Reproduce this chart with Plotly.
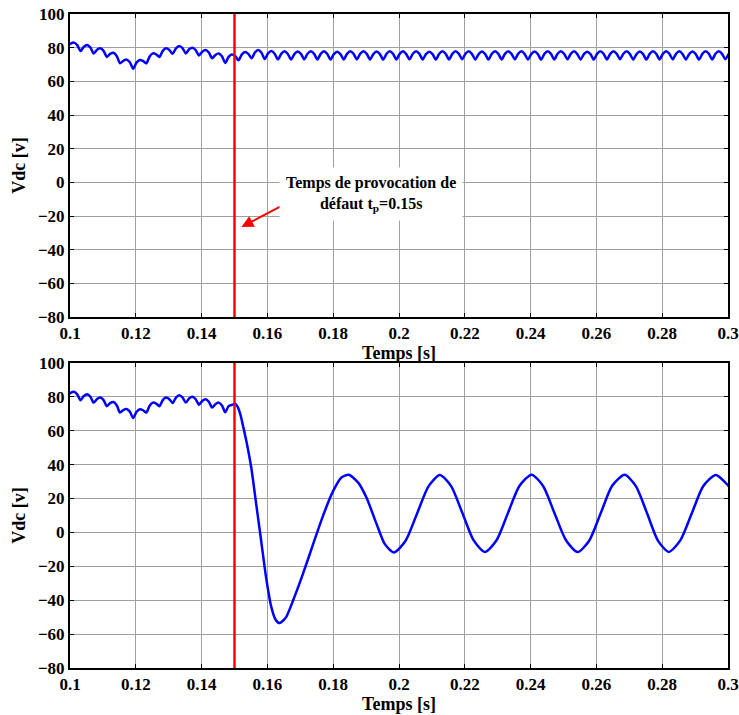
import numpy as np
import plotly.graph_objects as go

# ---------------------------------------------------------------------------
# DC-link voltage Vdc, sampled every 1 ms (ripple: cusp, rise, crest, fall)
# ---------------------------------------------------------------------------
T_START = 0.0992
DT = 0.001
T_FAULT = 0.15

vdc_normal = [
    81.0, 82.4, 83.0, 81.5,   78.0, 80.5, 81.6, 80.1,   76.6, 78.7, 79.6, 78.1,
    74.5, 76.3, 77.0, 75.1,   70.7, 72.2, 72.9, 71.3,   67.5, 71.1, 72.7, 72.1,
    70.7, 74.8, 76.6, 76.0,   74.5, 78.1, 79.6, 78.6,   76.4, 79.6, 81.0, 79.7,
    76.6, 79.0, 80.0, 78.6,   75.4, 77.6, 78.6, 77.1,   73.7, 75.7, 76.6, 74.9,
    70.9, 74.5, 76.0, 75.0,   72.5, 75.9, 77.4, 76.3,   73.7, 77.1, 78.6, 77.0,
    73.2, 76.6, 78.0, 76.4,   73.0, 76.3, 77.8, 76.2,   72.9, 76.2, 77.7, 76.3,
    73.1, 76.4, 77.9, 76.3,   73.0, 76.3, 77.8, 76.2,   72.9, 76.2, 77.6, 76.2,
    73.0, 76.3, 77.8, 76.3,   73.1, 76.4, 77.9, 76.3,   73.0, 76.2, 77.7, 76.2,
    72.9, 76.3, 77.8, 76.3,   73.0, 76.3, 77.8, 76.2,   73.1, 76.4, 77.9, 76.3,
    73.0, 76.2, 77.6, 76.2,   72.9, 76.3, 77.8, 76.3,   73.0, 76.3, 77.9, 76.3,
    73.1, 76.4, 77.8, 76.2,   73.0, 76.2, 77.7, 76.2,   72.9, 76.3, 77.8, 76.3,
    73.0, 76.3, 77.9, 76.3,   73.1, 76.3, 77.8, 76.2,   73.0, 76.2, 77.7, 76.2,
    72.9, 76.3, 77.8, 76.3,   73.0, 76.4, 77.9, 76.3,   73.1, 76.3, 77.8, 76.2,
    73.0, 76.2, 77.6, 76.2,   72.9, 76.3, 77.8, 76.3,   73.0, 76.3, 77.9, 76.3,
    73.1, 76.4, 77.8, 76.2,   73.0, 76.2, 77.7, 76.2,   72.9, 76.3, 77.8, 76.3,
    73.0, 76.3, 77.9, 76.3,   73.1, 76.3, 77.8, 76.2,   73.0, 76.2, 77.7, 76.2,
    72.9, 76.3, 77.8, 76.3,   73.0, 76.4, 77.9, 76.3,   73.1, 76.3,
]

# Response after the fault (bottom panel), read point by point
fault_t = [
    0.1494, 0.1502, 0.1510, 0.1518, 0.1527, 0.1536, 0.1551, 0.1566, 0.1581,
    0.1596, 0.1612, 0.1625, 0.1637, 0.1648, 0.1657, 0.1678, 0.1708, 0.1739,
    0.1769, 0.1800, 0.1825, 0.1847, 0.1876, 0.1901, 0.1932, 0.1957, 0.1985,
    0.2020, 0.2055, 0.2090, 0.2124, 0.2158, 0.2193, 0.2227, 0.2261, 0.2296,
    0.2331, 0.2366, 0.2403, 0.2438, 0.2473, 0.2508, 0.2543, 0.2578, 0.2613,
    0.2648, 0.2686, 0.2720, 0.2754, 0.2787, 0.2820, 0.2855, 0.2890, 0.2925,
    0.2963, 0.3000, 0.3010,
]
fault_v = [
    75.4, 76.0, 74.0, 69.5, 62.0, 53.9, 38.2, 16.7, -4.9,
    -26.5, -44.1, -51.5, -53.5, -52.0, -50.0, -40.2, -24.5, -6.9,
    9.8, 24.5, 32.4, 34.0, 29.4, 20.6, 4.9, -6.9, -11.8,
    -4.9, 11.2, 27.3, 33.9, 27.5, 11.3, -4.7, -11.5, -4.8,
    11.4, 27.4, 34.1, 27.4, 11.2, -4.8, -11.6, -4.9, 11.3,
    27.5, 34.0, 27.3, 11.3, -4.8, -11.5, -4.7, 11.3, 27.4,
    33.9, 27.8, 25.5,
]

x_ticks = [0.1, 0.12, 0.14, 0.16, 0.18, 0.2, 0.22, 0.24, 0.26, 0.28, 0.3]
x_tick_text = ["0.1", "0.12", "0.14", "0.16", "0.18", "0.2", "0.22", "0.24",
               "0.26", "0.28", "0.3"]
y_ticks = [-80, -60, -40, -20, 0, 20, 40, 60, 80, 100]

t_normal = T_START + DT * np.arange(len(vdc_normal))
pre = t_normal < 0.1490
t_fault_case = np.concatenate([t_normal[pre], fault_t])
v_fault_case = np.concatenate([np.array(vdc_normal)[pre], fault_v])

FONT = "Liberation Serif"
BLUE = "#0000ff"
RED = "#ff0000"

fig = go.Figure()
fig.add_trace(go.Scatter(
    x=t_normal, y=vdc_normal, mode="lines",
    line=dict(color=BLUE, width=2.5, shape="spline", smoothing=0.7),
    xaxis="x", yaxis="y", showlegend=False, hoverinfo="skip"))
fig.add_trace(go.Scatter(
    x=t_fault_case, y=v_fault_case, mode="lines",
    line=dict(color=BLUE, width=2.5, shape="spline", smoothing=0.7),
    xaxis="x2", yaxis="y2", showlegend=False, hoverinfo="skip"))

tick_font = dict(family=FONT, size=17, color="black", weight="bold")
title_font = dict(family=FONT, size=18, color="black", weight="bold")

def x_axis(anchor):
    return dict(
        anchor=anchor, range=[0.1, 0.3], tickmode="array",
        tickvals=x_ticks, ticktext=x_tick_text, tickfont=tick_font,
        ticks="inside", ticklen=4, tickcolor="black", tickwidth=1,
        showline=True, linecolor="black", linewidth=2, mirror="ticks",
        showgrid=True, gridcolor="#a0a0a0", gridwidth=1, zeroline=False,
        automargin=False,
        title=dict(text="Temps [s]", font=title_font, standoff=2),
    )

def y_axis(anchor, domain):
    return dict(
        anchor=anchor, domain=domain, range=[-80, 100], tickmode="array",
        tickvals=y_ticks, tickfont=tick_font,
        ticks="inside", ticklen=4, tickcolor="black", tickwidth=1,
        showline=True, linecolor="black", linewidth=2, mirror="ticks",
        showgrid=True, gridcolor="#a0a0a0", gridwidth=1, zeroline=False,
        automargin=False,
        title=dict(text="Vdc [v]", font=title_font, standoff=8),
    )

fig.update_layout(
    width=739, height=715,
    margin=dict(l=70, r=11, t=14, b=47),
    paper_bgcolor="white", plot_bgcolor="white",
    xaxis=x_axis("y"),
    yaxis=y_axis("x", [0.5367, 1.0]),
    xaxis2=x_axis("y2"),
    yaxis2=y_axis("x2", [0.0, 0.4664]),
    shapes=[
        dict(type="line", xref="x", yref="y domain", x0=T_FAULT, x1=T_FAULT,
             y0=0, y1=1, line=dict(color=RED, width=2.5), layer="above"),
        dict(type="line", xref="x2", yref="y2 domain", x0=T_FAULT, x1=T_FAULT,
             y0=0, y1=1, line=dict(color=RED, width=2.5), layer="above"),
    ],
    annotations=[
        dict(x=0.1521, y=-26.6, xref="x", yref="y", ax=0.1652, ay=-13.0,
             axref="x", ayref="y", text="", showarrow=True,
             arrowcolor=RED, arrowwidth=2, arrowhead=2, arrowsize=1.2),
        dict(x=0.1916, y=-6.8, xref="x", yref="y", showarrow=False,
             text="Temps de provocation de<br>défaut t<sub>p</sub>=0.15s",
             font=dict(family=FONT, size=16, color="black", weight="bold"),
             bgcolor="white", borderpad=6, align="center"),
    ],
)

fig.write_html("out.html")
